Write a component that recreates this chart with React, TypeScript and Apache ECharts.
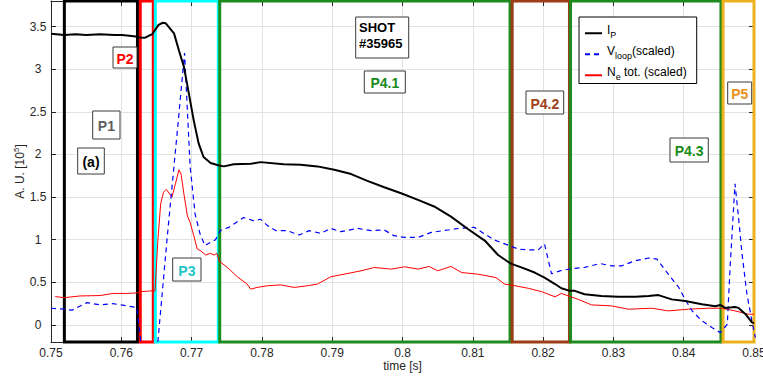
import React, { useEffect, useRef } from 'react';
import * as echarts from 'echarts';

// ---- Data (time [s], value [10^5 A.U.]) ----
const ipData: [number, number][] = [
  [0.7500, 3.415], [0.7519, 3.40], [0.7535, 3.41], [0.7550, 3.40], [0.7570, 3.41],
  [0.7590, 3.40], [0.7601, 3.40], [0.7615, 3.39], [0.7623, 3.38], [0.7627, 3.373],
  [0.7634, 3.37], [0.7641, 3.40], [0.7644, 3.41], [0.7648, 3.46], [0.7653, 3.52],
  [0.7659, 3.545], [0.7663, 3.54], [0.7675, 3.42], [0.7682, 3.22], [0.7689, 3.03],
  [0.7696, 2.72], [0.7703, 2.40], [0.7710, 2.13], [0.7717, 1.97], [0.7727, 1.90],
  [0.7739, 1.87], [0.7746, 1.86], [0.7760, 1.886], [0.7784, 1.89], [0.7798, 1.91],
  [0.7831, 1.886], [0.7855, 1.88], [0.7879, 1.86], [0.7903, 1.82], [0.7927, 1.77],
  [0.7950, 1.69], [0.7974, 1.615], [0.7998, 1.545], [0.8022, 1.467], [0.8045, 1.39],
  [0.8069, 1.27], [0.8093, 1.126], [0.8117, 0.99], [0.8136, 0.82], [0.8152, 0.73],
  [0.8156, 0.714], [0.8169, 0.675], [0.8188, 0.615], [0.8202, 0.556], [0.8217, 0.48],
  [0.8226, 0.43], [0.8238, 0.40], [0.8245, 0.40], [0.8259, 0.36], [0.8283, 0.34],
  [0.8307, 0.33], [0.8331, 0.33], [0.8350, 0.34], [0.8364, 0.35], [0.8383, 0.30],
  [0.8402, 0.28], [0.8426, 0.243], [0.8445, 0.22], [0.8452, 0.235], [0.8459, 0.20],
  [0.8473, 0.21], [0.8478, 0.20], [0.8488, 0.126], [0.8497, 0.03], [0.8500, 0.02],
];

const vloopData: [number, number][] = [
  [0.7500, 0.196], [0.7519, 0.185], [0.7530, 0.173], [0.7551, 0.262], [0.7570, 0.235],
  [0.7588, 0.25], [0.7608, 0.224], [0.7622, 0.204], [0.7630, -0.35], [0.7649, -0.5],
  [0.7652, -0.2], [0.7665, 1.0], [0.7680, 2.3], [0.7690, 3.19], [0.7698, 1.85],
  [0.7705, 1.30], [0.7712, 1.07], [0.7719, 0.93], [0.7727, 0.97], [0.7734, 1.0],
  [0.7741, 1.11], [0.7753, 1.145], [0.7763, 1.20], [0.7774, 1.26], [0.7789, 1.22],
  [0.7798, 1.24], [0.7808, 1.165], [0.7820, 1.106], [0.7836, 1.106], [0.7853, 1.055],
  [0.7867, 1.106], [0.7884, 1.075], [0.7898, 1.133], [0.7912, 1.094], [0.7936, 1.133],
  [0.7955, 1.106], [0.7974, 1.114], [0.7988, 1.047], [0.8003, 1.027], [0.8022, 1.027],
  [0.8041, 1.086], [0.8065, 1.114], [0.8081, 1.133], [0.8102, 1.145], [0.8117, 1.067],
  [0.8131, 0.996], [0.8152, 0.93], [0.8165, 0.89], [0.8179, 0.88], [0.8193, 0.88],
  [0.8202, 0.95], [0.8212, 0.60], [0.8224, 0.635], [0.8240, 0.66], [0.8259, 0.675],
  [0.8281, 0.72], [0.8297, 0.694], [0.8312, 0.694], [0.8331, 0.753], [0.8350, 0.785],
  [0.8362, 0.773], [0.8378, 0.596], [0.8393, 0.44], [0.8402, 0.30], [0.8412, 0.165],
  [0.8426, 0.047], [0.8440, -0.03], [0.8452, -0.09], [0.8462, 0.008], [0.8466, 0.675],
  [0.8473, 1.655], [0.8478, 1.26], [0.8483, 0.83], [0.8490, 0.36], [0.8497, 0.047],
  [0.8502, -0.15],
];

const neData: [number, number][] = [
  [0.7506, 0.333], [0.7519, 0.32], [0.7541, 0.34], [0.7570, 0.345], [0.7588, 0.37],
  [0.7608, 0.37], [0.7623, 0.376], [0.7627, 0.39], [0.7644, 0.40], [0.7648, 0.40],
  [0.7652, 0.99], [0.7656, 1.42], [0.7660, 1.556], [0.7664, 1.59], [0.7672, 1.50],
  [0.7677, 1.655], [0.7682, 1.82], [0.7685, 1.77], [0.7689, 1.54], [0.7694, 1.28],
  [0.7698, 1.20], [0.7703, 1.05], [0.7708, 0.89], [0.7713, 0.87], [0.7720, 0.82],
  [0.7727, 0.84], [0.7732, 0.82], [0.7736, 0.84], [0.7739, 0.75], [0.7751, 0.674],
  [0.7765, 0.565], [0.7779, 0.48], [0.7784, 0.42], [0.7793, 0.44], [0.7808, 0.46],
  [0.7827, 0.47], [0.7846, 0.44], [0.7865, 0.46], [0.7879, 0.48], [0.7898, 0.565],
  [0.7917, 0.596], [0.7941, 0.635], [0.7960, 0.674], [0.7984, 0.655], [0.8003, 0.682],
  [0.8022, 0.655], [0.8038, 0.686], [0.8050, 0.635], [0.8069, 0.686], [0.8084, 0.615],
  [0.8107, 0.596], [0.8133, 0.556], [0.8145, 0.48], [0.8160, 0.46], [0.8179, 0.43],
  [0.8198, 0.39], [0.8217, 0.33], [0.8226, 0.37], [0.8236, 0.34], [0.8250, 0.30],
  [0.8269, 0.235], [0.8297, 0.224], [0.8321, 0.185], [0.8355, 0.196], [0.8378, 0.165],
  [0.8407, 0.185], [0.8435, 0.196], [0.8454, 0.196], [0.8473, 0.165], [0.8492, 0.126],
  [0.8500, 0.126],
];

const yTickValues = [0, 0.5, 1, 1.5, 2, 2.5, 3, 3.5];

const phaseNames = ['P1', 'P2', 'P3', 'P4.1', 'P4.2', 'P4.3', 'P5'];
const phaseStarts = [0.7519, 0.7627, 0.76484, 0.7740, 0.8156, 0.8239, 0.8456];
const phaseEnds = [0.7623, 0.76455, 0.7738, 0.8153, 0.82375, 0.8453, 0.8500];
const phaseColors = ['#000000', '#ff0000', '#00ffff', '#1f8b1f', '#9c3d17', '#1f8b1f', '#edb120'];

const FONT = '"Liberation Sans", Arial, Helvetica, sans-serif';
const AXIS_COLOR = '#262626';

// annotation boxes (pixel layout)
const annotations = [
  { text: 'P1', x0: 92.7, y0: 111, x1: 120, y1: 139, color: '#5e5e5e' },
  { text: '(a)', x0: 77.7, y0: 148, x1: 104.3, y1: 174, color: '#000000' },
  { text: 'P2', x0: 113, y0: 47, x1: 137, y1: 68, color: '#ff0000' },
  { text: 'P3', x0: 172.7, y0: 258, x1: 201, y1: 281, color: '#22c4c4' },
  { text: 'P4.1', x0: 364.3, y0: 71, x1: 405.3, y1: 93, color: '#1a8a1a' },
  { text: 'P4.2', x0: 526, y0: 91, x1: 563.7, y1: 114, color: '#a0401a' },
  { text: 'P4.3', x0: 670, y0: 138, x1: 708.3, y1: 162, color: '#1a8a1a' },
  { text: 'P5', x0: 727.7, y0: 82, x1: 751.7, y1: 104, color: '#e8921a' },
];

const legendLabels: Record<string, string> = {
  Ip: '{n|I}{s|P}',
  Vloop: '{n|V}{s|loop}{n|(scaled)}',
  Ne: '{n|N}{s|e}{n| tot. (scaled)}',
};

export default function App() {
  const ref = useRef<HTMLDivElement>(null);

  useEffect(() => {
    if (!ref.current) return;
    const chart = echarts.init(ref.current, undefined, { renderer: 'svg' });

    const graphics: any[] = [];
    annotations.forEach((a) => {
      graphics.push({
        type: 'rect',
        shape: { x: a.x0, y: a.y0, width: a.x1 - a.x0, height: a.y1 - a.y0 },
        style: { fill: '#ffffff', stroke: '#3a3a3a', lineWidth: 1 },
        z: 100,
      });
      graphics.push({
        type: 'text',
        x: (a.x0 + a.x1) / 2,
        y: (a.y0 + a.y1) / 2 + 1,
        style: {
          text: a.text,
          fill: a.color,
          font: `bold 14px ${FONT}`,
          align: 'center',
          verticalAlign: 'middle',
        },
        z: 101,
      });
    });
    graphics.push({
      type: 'rect',
      shape: { x: 355.7, y: 17, width: 53, height: 41 },
      style: { fill: '#ffffff', stroke: '#3a3a3a', lineWidth: 1 },
      z: 100,
    });
    graphics.push({
      type: 'text',
      x: 359,
      y: 19,
      style: {
        text: 'SHOT\n#35965',
        fill: '#000000',
        font: `bold 13px ${FONT}`,
        lineHeight: 16,
        align: 'left',
        verticalAlign: 'top',
      },
      z: 101,
    });

    const markAreaData = phaseNames.map((n, i) => [
      {
        name: n,
        xAxis: phaseStarts[i],
        itemStyle: { color: 'rgba(0,0,0,0)', borderColor: phaseColors[i], borderWidth: 3 },
      },
      { xAxis: phaseEnds[i] },
    ]);

    const commonX = {
      type: 'value' as const,
      min: 0.75,
      max: 0.85,
      interval: 0.01,
    };
    const commonY = {
      type: 'value' as const,
      min: -0.2,
      max: 3.8,
    };

    chart.setOption({
      animation: false,
      backgroundColor: '#ffffff',
      textStyle: { fontFamily: FONT },
      grid: { left: 51, right: 9, top: 1, bottom: 34, containLabel: false, outerBoundsMode: 'none' },
      legend: {
        data: ['Ip', 'Vloop', 'Ne'],
        orient: 'vertical',
        left: 579,
        top: 17,
        padding: [7, 10, 2, 5],
        itemGap: 5.5,
        itemWidth: 17,
        itemHeight: 12,
        backgroundColor: '#ffffff',
        borderColor: '#000000',
        borderWidth: 1,
        borderRadius: 0,
        z: 50,
        selectedMode: false,
        itemStyle: { opacity: 0, borderWidth: 0 },
        formatter: (name: string) => legendLabels[name],
        textStyle: {
          color: '#000000',
          fontFamily: FONT,
          rich: {
            n: { fontSize: 12, color: '#000000', verticalAlign: 'top', fontFamily: FONT },
            s: { fontSize: 9, color: '#000000', padding: [6.5, 0, 3, 0], fontFamily: FONT },
          },
        },
      },
      xAxis: [
        {
          ...commonX,
          position: 'bottom',
          name: 'time [s]',
          nameLocation: 'middle',
          nameGap: 18,
          nameMoveOverlap: false,
          nameTextStyle: { color: AXIS_COLOR, fontSize: 12, lineHeight: 12, fontFamily: FONT },
          axisLine: { show: true, onZero: false, lineStyle: { color: AXIS_COLOR, width: 1 } },
          axisTick: { show: true, inside: true, length: 5, lineStyle: { color: AXIS_COLOR } },
          axisLabel: { color: AXIS_COLOR, fontSize: 12, lineHeight: 12, margin: 5, fontFamily: FONT },
          splitLine: { show: true, lineStyle: { color: '#e2e2e2', width: 1 } },
        },
        {
          ...commonX,
          position: 'top',
          axisLine: { show: true, onZero: false, lineStyle: { color: AXIS_COLOR, width: 1 } },
          axisTick: { show: true, inside: true, length: 5, lineStyle: { color: AXIS_COLOR } },
          axisLabel: { show: false },
          splitLine: { show: false },
        },
      ],
      yAxis: [
        {
          ...commonY,
          position: 'left',
          name: 'A. U. [10{sup|5}]',
          nameLocation: 'middle',
          nameGap: 24,
          nameMoveOverlap: false,
          nameTextStyle: {
            color: AXIS_COLOR,
            fontSize: 12,
            fontFamily: FONT,
            rich: { sup: { fontSize: 8, padding: [0, 0, 7, 0], color: AXIS_COLOR } },
          },
          axisLine: { show: true, onZero: false, lineStyle: { color: AXIS_COLOR, width: 1 } },
          axisTick: { show: true, inside: true, length: 5, customValues: yTickValues, lineStyle: { color: AXIS_COLOR } },
          axisLabel: {
            color: AXIS_COLOR,
            fontSize: 12,
            margin: 13,
            align: 'center',
            customValues: yTickValues,
            fontFamily: FONT,
          },
          splitLine: { show: true, lineStyle: { color: '#e2e2e2', width: 1 } },
        },
        {
          ...commonY,
          position: 'right',
          axisLine: { show: true, onZero: false, lineStyle: { color: AXIS_COLOR, width: 1 } },
          axisTick: { show: true, inside: true, length: 5, customValues: yTickValues, lineStyle: { color: AXIS_COLOR } },
          axisLabel: { show: false, customValues: yTickValues },
          splitLine: { show: false },
        },
      ],
      series: [
        {
          name: 'Ip',
          type: 'line',
          data: ipData,
          xAxisIndex: 0,
          yAxisIndex: 0,
          showSymbol: false,
          symbol: 'none',
          clip: true,
          lineStyle: { color: '#000000', width: 2 },
          itemStyle: { color: '#000000' },
          z: 5,
        },
        {
          name: 'Vloop',
          type: 'line',
          data: vloopData,
          xAxisIndex: 0,
          yAxisIndex: 0,
          showSymbol: false,
          symbol: 'none',
          clip: true,
          lineStyle: { color: '#0000ff', width: 1.2, type: [5, 4] },
          itemStyle: { color: '#0000ff' },
          z: 4,
        },
        {
          name: 'Ne',
          type: 'line',
          data: neData,
          xAxisIndex: 0,
          yAxisIndex: 0,
          showSymbol: false,
          symbol: 'none',
          clip: true,
          lineStyle: { color: '#ff0000', width: 1 },
          itemStyle: { color: '#ff0000' },
          z: 3,
          markArea: {
            silent: true,
            label: { show: false },
            emphasis: { disabled: true },
            data: markAreaData,
          },
        },
      ],
      graphic: graphics,
    });

    return () => {
      chart.dispose();
    };
  }, []);

  return (
    <div
      ref={ref}
      style={{ position: 'fixed', left: 0, top: 0, width: 763, height: 376, background: '#fff' }}
    />
  );
}
